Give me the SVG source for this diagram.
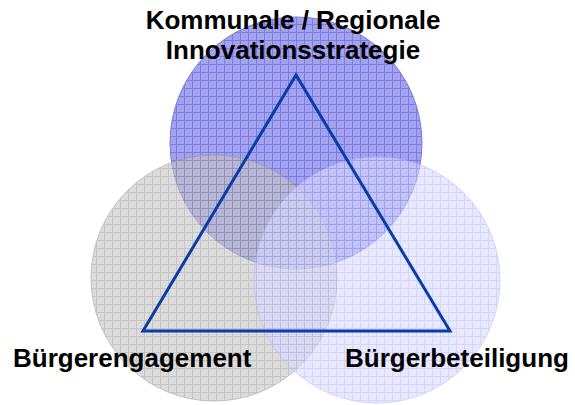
<svg xmlns="http://www.w3.org/2000/svg" width="575" height="405" viewBox="0 0 575 405">
<defs>
<pattern id="pBlue" width="8" height="8" patternUnits="userSpaceOnUse" x="0" y="0">
<rect width="8" height="8" fill="#a2a2ee"/>
<path d="M0 0.5H8M0.5 0V8" stroke="#7c7ce0" stroke-width="1"/>
</pattern>
<pattern id="pGray" width="8" height="8" patternUnits="userSpaceOnUse">
<rect width="8" height="8" fill="#c6c6c6"/>
<path d="M0 0.5H8M0.5 0V8" stroke="#a0a0a0" stroke-width="1"/>
</pattern>
<pattern id="pLav" width="8" height="8" patternUnits="userSpaceOnUse">
<rect width="8" height="8" fill="#dadaff"/>
<path d="M0 0.5H8M0.5 0V8" stroke="#b8b8ff" stroke-width="1"/>
</pattern>
<style>
.lbl{font-family:"Liberation Sans",Arial,sans-serif;font-weight:bold;font-size:26px;fill:#000}
.tri{fill:none;stroke:#0a3ca8;stroke-width:3;stroke-linejoin:miter}
</style>
</defs>
<rect width="575" height="405" fill="#fff"/>
<g id="circle-strategy">
<circle cx="296" cy="143" r="126" fill="url(#pBlue)" stroke="#7a7ae0" stroke-width="1"/>
</g>
<g id="circle-engagement" opacity="0.6">
<circle cx="214" cy="278" r="123" fill="url(#pGray)" stroke="#999" stroke-width="1"/>
</g>
<g id="circle-beteiligung" opacity="0.6">
<circle cx="377" cy="280" r="123" fill="url(#pLav)" stroke="#b8b8ff" stroke-width="1"/>
</g>
<g id="connectors">
<path class="tri" d="M296 75L143 331H450Z"/>
</g>
<g id="label-strategy">
<text class="lbl" x="293" y="29" text-anchor="middle">Kommunale / Regionale</text>
<text class="lbl" x="293" y="59" text-anchor="middle">Innovationsstrategie</text>
</g>
<g id="label-engagement">
<text class="lbl" x="13" y="367">Bürgerengagement</text>
</g>
<g id="label-beteiligung">
<text class="lbl" x="345" y="367">Bürgerbeteiligung</text>
</g>
</svg>
